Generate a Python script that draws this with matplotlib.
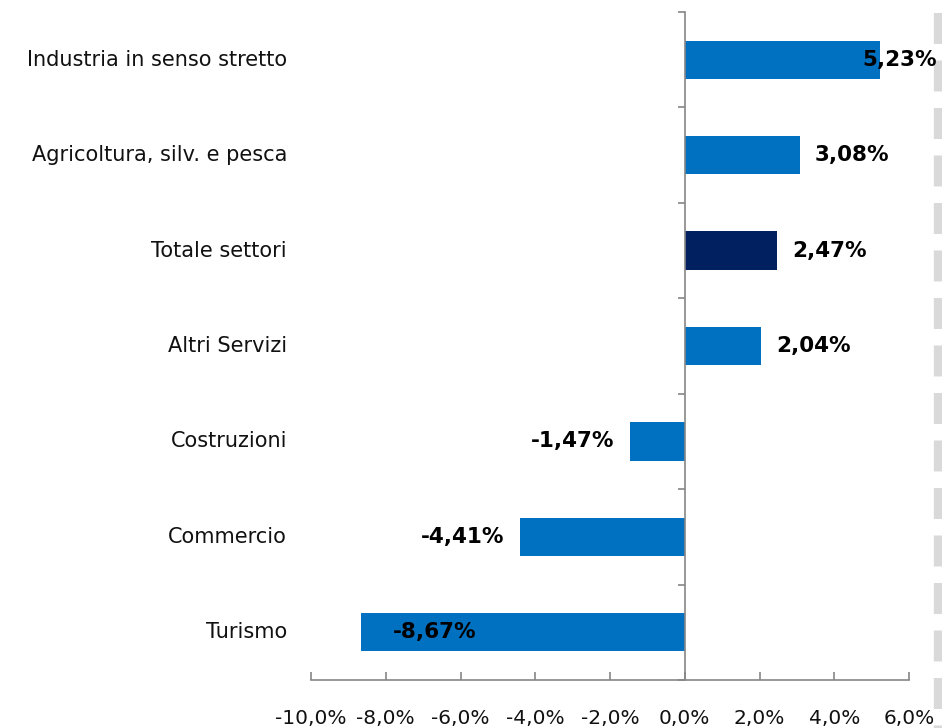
import matplotlib
matplotlib.use("Agg")
import matplotlib.pyplot as plt
import matplotlib.transforms as mtransforms
from matplotlib.lines import Line2D
from matplotlib.ticker import FuncFormatter, FixedLocator

plt.rcParams['font.family'] = ['DejaVu Sans']
plt.rcParams['lines.scale_dashes'] = False

# data, top to bottom as in the picture
settori = ["Industria in senso stretto", "Agricoltura, silv. e pesca", "Totale settori",
           "Altri Servizi", "Costruzioni", "Commercio", "Turismo"]
variazioni = [5.23, 3.08, 2.47, 2.04, -1.47, -4.41, -8.67]
evidenzia = ["Totale settori"]
x_ticks = [-10, -8, -6, -4, -2, 0, 2, 4, 6]

blu = '#0070C0'
blu_scuro = '#002060'
grigio = '#868686'

fig = plt.figure(figsize=(9.42, 7.28), dpi=100)
ax = fig.add_axes([311/942, 1 - 680/728, 598/942, 668/728])

pos = list(range(len(settori)))
colori = [blu_scuro if s in evidenzia else blu for s in settori]
ax.barh(pos, variazioni, height=0.4, color=colori, zorder=2)

ax.set_xlim(-10, 6)
ax.set_ylim(len(settori) - 0.5, -0.5)

# spines
for s in ['top', 'right']:
    ax.spines[s].set_visible(False)
ax.spines['left'].set_position(('data', 0))
ax.spines['left'].set_color(grigio)
ax.spines['bottom'].set_color(grigio)
ax.spines['left'].set_linewidth(1.2)
ax.spines['bottom'].set_linewidth(1.2)

# x axis
ax.xaxis.set_major_locator(FixedLocator(x_ticks))
ax.xaxis.set_major_formatter(FuncFormatter(lambda v, p: ("%.1f%%" % v).replace('.', ',')))
ax.tick_params(axis='x', direction='in', length=6, width=1.2, color=grigio,
               labelsize=14.5, pad=21, labelcolor='#111111')

# y axis: only boundary ticks on the zero line, labels drawn at the left
ax.yaxis.set_major_locator(FixedLocator([]))
ax.yaxis.set_minor_locator(FixedLocator([p - 0.5 for p in pos] + [pos[-1] + 0.5]))
ax.tick_params(axis='y', which='minor', direction='out', length=5, width=1.2, color=grigio)

trans = mtransforms.blended_transform_factory(ax.transAxes, ax.transData)
for p, s in zip(pos, settori):
    ax.text(-0.04, p, s, transform=trans, ha='right', va='center',
            fontsize=15, color='#111111')

# value labels
for p, v in zip(pos, variazioni):
    testo = ("%.2f%%" % v).replace('.', ',')
    if v > 5:
        off, ha = -18, 'left'
    elif v > 0:
        off, ha = 15, 'left'
    elif v > -8:
        off, ha = -16, 'right'
    else:
        off, ha = 32, 'left'
    t = mtransforms.offset_copy(ax.transData, fig=fig, x=off * 72 / 100, y=0, units='points')
    ax.text(v, p, testo, transform=t, ha=ha, va='center', fontsize=15.5,
            fontweight='bold', color='black', zorder=3, clip_on=False)

# grey dashed strip at the right edge of the crop
fig.add_artist(Line2D([938/942, 938/942], [1 - 13/728, 0], transform=fig.transFigure,
                      color='#d9d9d9', lw=6, linestyle=(0, (22.3, 11.9)), zorder=0))

fig.savefig('out.png', dpi=100, facecolor='white')
